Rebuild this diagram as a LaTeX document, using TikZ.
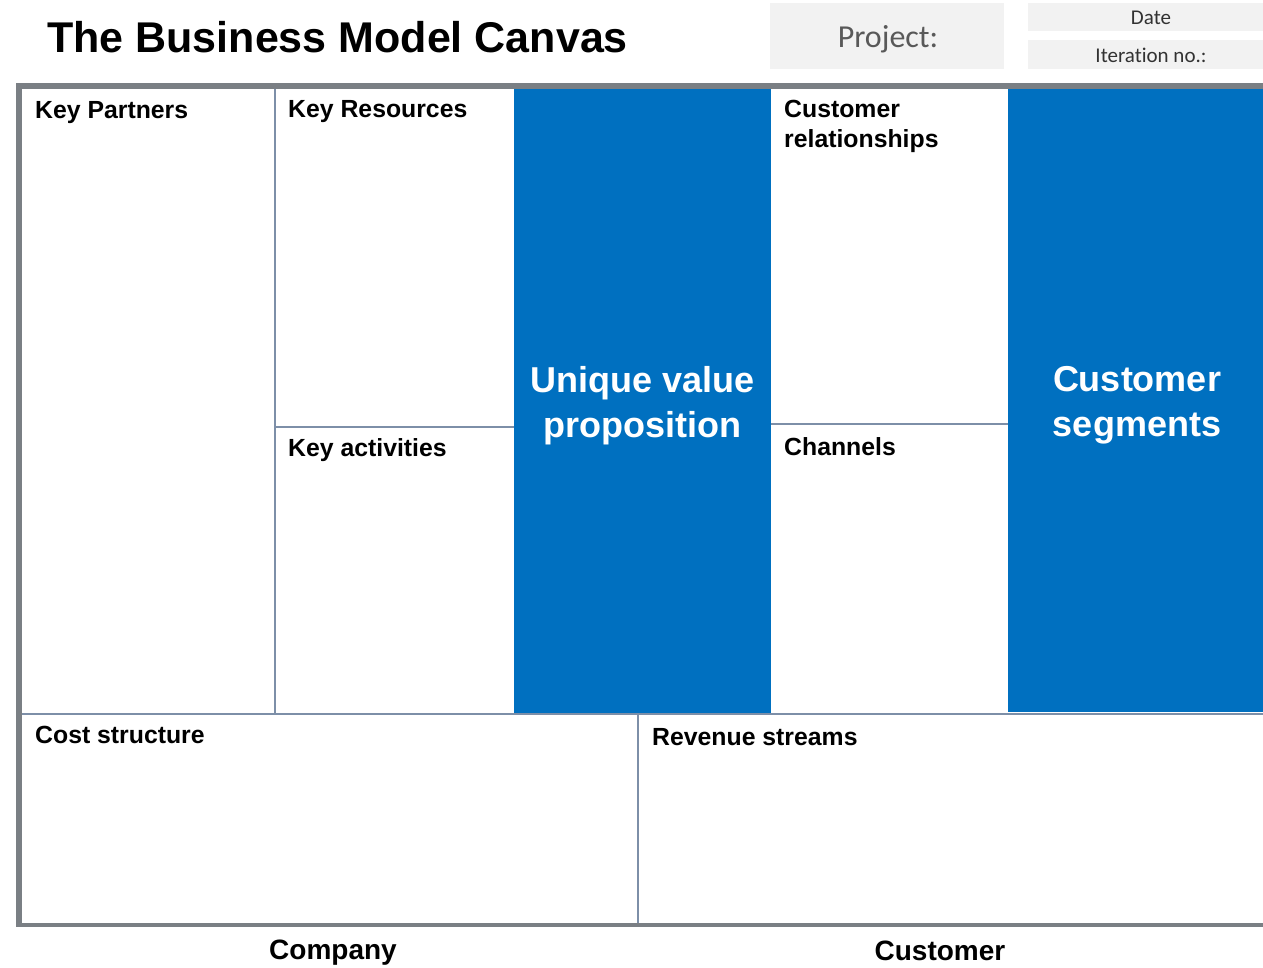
\documentclass[tikz,border=0pt]{standalone}
\usepackage{fontspec}
\setmainfont{Liberation Sans}
\newfontfamily\calib[Ligatures=NoCommon]{Carlito}
\definecolor{bmcblue}{RGB}{0,112,192}
\definecolor{framegray}{RGB}{122,127,132}
\definecolor{cellline}{RGB}{125,143,168}
\definecolor{hdrgray}{RGB}{242,242,242}
\definecolor{hdrtext}{RGB}{89,89,89}
\definecolor{smalltext}{RGB}{50,50,50}
\begin{document}
\begin{tikzpicture}[x=1pt,y=-1pt,
  lbl/.style={anchor=base west, inner sep=0pt, font=\fontsize{24.8}{30}\selectfont\bfseries, align=left},
  big/.style={inner sep=0pt, text=white, font=\fontsize{36}{45}\selectfont\bfseries, align=center},
  foot/.style={anchor=base, inner sep=0pt, font=\fontsize{28}{34}\selectfont\bfseries},
  hdrbox/.style={fill=hdrgray, draw=none, inner sep=0pt, anchor=north west},
  hdrtxt/.style={anchor=base, inner sep=0pt},
  cell/.style={draw=cellline, line width=1.2pt},
  frame/.style={fill=framegray, draw=none},
  bluecell/.style={fill=bmcblue, draw=none}]
\useasboundingbox (0,0) rectangle (1263,968);
\fill[white] (0,0) rectangle (1263,968);

% title
\node[anchor=base west, inner sep=0pt, font=\fontsize{43}{50}\selectfont\bfseries] (title) at (47,53) {The Business Model Canvas};

% header boxes
\node[hdrbox, minimum width=234pt, minimum height=66pt] (projectbox) at (770,3) {};
\node[hdrbox, minimum width=235pt, minimum height=28pt] (datebox) at (1028,3) {};
\node[hdrbox, minimum width=235pt, minimum height=29pt] (iterbox) at (1028,40) {};
\node[hdrtxt, text=hdrtext, font=\calib\fontsize{32}{36}\selectfont] (project) at (888,48) {Project:};
\node[hdrtxt, text=smalltext, font=\calib\fontsize{21}{24}\selectfont] (date) at (1151,24.5) {Date};
\node[hdrtxt, text=smalltext, font=\calib\fontsize{21}{24}\selectfont] (iter) at (1151,63) {Iteration no.:};

% blue columns
\fill[bluecell] (514,89) rectangle (771,714);
\fill[bluecell] (1008,89) rectangle (1263,712);

% inner grid lines
\draw[cell] (275,89) -- (275,714);
\draw[cell] (275,427) -- (514,427);
\draw[cell] (771,424) -- (1008,424);
\draw[cell] (22,714) -- (1263,714);
\draw[cell] (638,714) -- (638,923);

% outer frame
\fill[frame] (16,83) rectangle (1263,89);
\fill[frame] (16,83) rectangle (22,927);
\fill[frame] (16,923) rectangle (1263,927);

% labels
\node[lbl] (kp) at (35,119) {Key Partners};
\node[lbl] (kr) at (288,118) {Key Resources};
\node[lbl] (ka) at (288,456) {Key activities};
\node[lbl] (cr) at (784,148) {Customer\\relationships};
\node[lbl] (ch) at (784,455) {Channels};
\node[lbl] (cs) at (35,743) {Cost structure};
\node[lbl] (rs) at (652,745) {Revenue streams};

\node[big] (uvp) at (642.5,406) {Unique value\\proposition};
\node[big] (seg) at (1137,405) {Customer\\segments};

\node[foot] (company) at (333,959) {Company};
\node[foot] (customer) at (940,960) {Customer};
\end{tikzpicture}
\end{document}
